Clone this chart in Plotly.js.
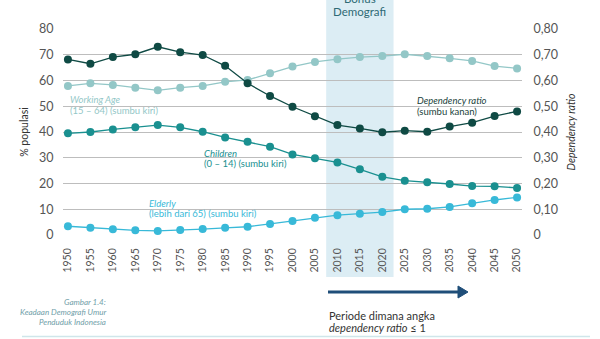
<!DOCTYPE html>
<html>
<head>
<meta charset="utf-8">
<script src="https://cdn.plot.ly/plotly-3.0.1.min.js"></script>
<style>html,body{margin:0;padding:0;background:#fff;}#chart{width:600px;height:339px;}</style>
</head>
<body>
<div id="chart"></div>
<script>
const years = [1950,1955,1960,1965,1970,1975,1980,1985,1990,1995,2000,2005,2010,2015,2020,2025,2030,2035,2040,2045,2050];
const workingAge = [57.9,58.9,58.3,57.2,56.2,57.2,57.9,59.5,60.2,62.8,65.4,67.2,68.3,69.1,69.5,70.2,69.5,68.6,67.6,65.6,64.7];
const children = [39.5,40.0,41.0,41.8,42.7,41.8,40.1,37.9,36.2,34.3,31.3,29.8,28.2,25.5,22.6,21.1,20.5,19.8,19.0,18.9,18.3];
const elderly = [3.4,2.8,2.2,1.8,1.6,1.9,2.3,2.8,3.2,4.3,5.4,6.7,7.7,8.3,8.9,10.0,10.2,10.9,12.3,13.6,14.6];
const dependencyRatio = [0.682,0.665,0.691,0.702,0.731,0.710,0.699,0.657,0.589,0.540,0.498,0.461,0.427,0.414,0.399,0.405,0.401,0.421,0.436,0.462,0.480];
const leftTicks = [0,10,20,30,40,50,60,70,80];
const rightTickVals = [0,0.1,0.2,0.3,0.4,0.5,0.6,0.7,0.8];
const rightTickText = ["0","0,10","0,20","0,30","0,40","0,50","0,60","0,70","0,80"];

const FONT = "Lato, 'Open Sans', sans-serif";
const C_DEP = "#0f4a44", C_WA = "#93c7c7", C_CH = "#1a9090", C_EL = "#38b9d8";

function tr(y, color, axis) {
  return {x: years, y: y, yaxis: axis, type: "scatter", mode: "lines+markers",
    line: {color: color, width: 1.3}, marker: {color: color, size: 8},
    cliponaxis: false, hoverinfo: "skip", showlegend: false};
}
const data = [tr(elderly, C_EL, "y"), tr(children, C_CH, "y"), tr(workingAge, C_WA, "y"), tr(dependencyRatio, C_DEP, "y2")];

// pixel helpers for paper coords (plot area: x 63..522, y 29..235)
const px = v => (v - 63) / 459;
const py = v => (235 - v) / 206;

function note(x, y, txt, color, opts) {
  return Object.assign({xref: "paper", yref: "paper", x: px(x), y: py(y), text: txt, showarrow: false,
    xanchor: "left", yanchor: "middle", font: {family: FONT, size: 9.5, color: color}}, opts || {});
}

const layout = {
  width: 600, height: 339,
  margin: {l: 63, r: 78, t: 29, b: 104},
  paper_bgcolor: "#fff", plot_bgcolor: "rgba(0,0,0,0)",
  font: {family: FONT, color: "#555"},
  xaxis: {range: [1948.9, 2051.1], tickvals: years, ticktext: years.map(String), tickangle: -90,
    showgrid: false, zeroline: false, showline: false, ticks: "outside", ticklen: 8, tickcolor: "rgba(0,0,0,0)",
    tickfont: {family: FONT, size: 10.5, color: "#555"}, fixedrange: true},
  yaxis: {range: [0, 80], tickvals: leftTicks, showgrid: true, gridcolor: "#bdbdbd", gridwidth: 1,
    zeroline: false, showline: false, ticks: "outside", ticklen: 6, tickcolor: "rgba(0,0,0,0)",
    tickfont: {family: FONT, size: 12.5, color: "#555"},
    title: {text: "% populasi", font: {family: FONT, size: 10.5, color: "#333"}, standoff: 8}},
  yaxis2: {range: [0, 0.8], overlaying: "y", side: "right", tickvals: rightTickVals, ticktext: rightTickText,
    showgrid: false, zeroline: false, showline: false, ticks: "outside", ticklen: 8, tickcolor: "rgba(0,0,0,0)",
    tickfont: {family: FONT, size: 12.5, color: "#555"},
    title: {text: "<i>Dependency ratio</i>", font: {family: FONT, size: 10.5, color: "#333"}, standoff: 10}},
  shapes: [
    {type: "rect", xref: "x", yref: "paper", x0: 2007.5, x1: 2022.5, y0: py(277), y1: py(0),
      fillcolor: "#dcedf4", line: {width: 0}, layer: "below"},
    {type: "line", xref: "paper", yref: "paper", x0: px(328), x1: px(460), y0: py(292), y1: py(292),
      line: {color: "#1f4e79", width: 3}},
    {type: "path", xref: "paper", yref: "paper",
      path: "M " + px(458) + "," + py(286) + " L " + px(468) + "," + py(292) + " L " + px(458) + "," + py(298) + " Z",
      fillcolor: "#1f4e79", line: {color: "#1f4e79", width: 1}},
    {type: "line", xref: "paper", yref: "paper", x0: px(22), x1: px(590), y0: py(336.5), y1: py(336.5),
      line: {color: "#cfe6ea", width: 1.5}}
  ],
  annotations: [
    {xref: "x", yref: "paper", x: 2015, y: py(20), text: "Bonus", showarrow: false,
      xanchor: "center", yanchor: "bottom", yshift: -12, font: {family: FONT, size: 11.5, color: "#2e6a74"}},
    {xref: "x", yref: "paper", x: 2015, y: py(20), text: "Demografi", showarrow: false,
      xanchor: "center", yanchor: "bottom", font: {family: FONT, size: 11.5, color: "#2e6a74"}},
    note(68, 100, "<i>Working Age</i>", C_WA),
    note(68, 110.5, "(15 \u2013 64) (sumbu kiri)", C_WA),
    note(202, 153, "<i>Children</i>", C_CH),
    note(202, 163.5, "(0 \u2013 14) (sumbu kiri)", C_CH),
    note(147, 203, "<i>Elderly</i>", C_EL),
    note(147, 213.5, "(lebih dari 65) (sumbu kiri)", C_EL),
    note(415, 101, "<i>Dependency ratio</i>", "#1a3f3b"),
    note(415, 111.5, "(sumbu kanan)", "#1a3f3b"),
    note(327, 315, "Periode dimana angka", "#333", {font: {family: FONT, size: 11, color: "#333"}}),
    note(327, 327.5, "<i>dependency ratio</i> \u2264 1", "#333", {font: {family: FONT, size: 11, color: "#333"}}),
    note(108, 301.5, "<i>Gambar 1.4:</i>", "#6f9ea8", {xanchor: "right", font: {family: FONT, size: 8, color: "#6f9ea8"}}),
    note(108, 311.5, "<i>Keadaan Demografi Umur</i>", "#6f9ea8", {xanchor: "right", font: {family: FONT, size: 8, color: "#6f9ea8"}}),
    note(108, 321.5, "<i>Penduduk Indonesia</i>", "#6f9ea8", {xanchor: "right", font: {family: FONT, size: 8, color: "#6f9ea8"}})
  ]
};
// Position "Bonus" just above "Demografi" (partially clipped at top edge as in reference)
layout.annotations[0].yshift = 13;

Plotly.newPlot("chart", data, layout, {staticPlot: true, displayModeBar: false});
</script>
</body>
</html>
